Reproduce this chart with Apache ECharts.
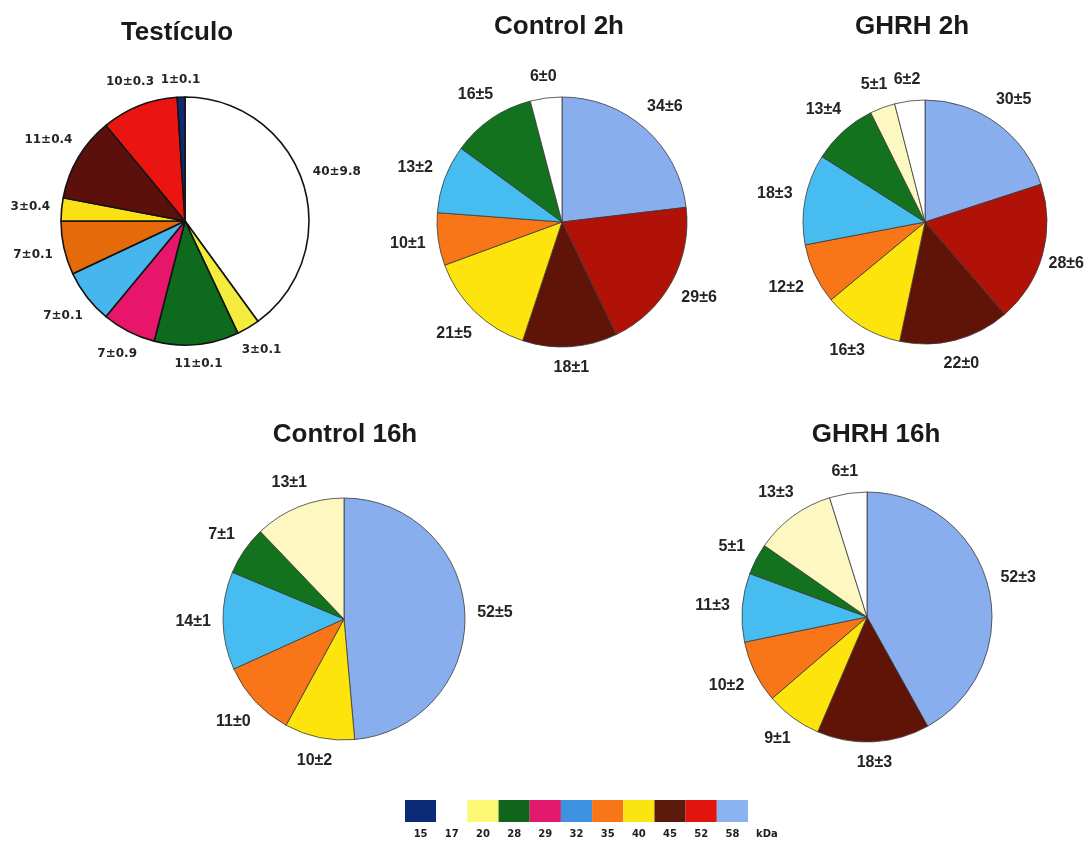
<!DOCTYPE html>
<html>
<head>
<meta charset="utf-8">
<script src="https://cdn.jsdelivr.net/npm/echarts@6/dist/echarts.min.js"></script>
<style>
  html, body { margin: 0; padding: 0; background: #ffffff; }
  #chart { width: 1088px; height: 845px; }
</style>
</head>
<body>
<div id="chart"></div>
<script>
// Protein fractions (kDa) per sample: mean and SD, drawn clockwise from 12 o'clock.
const testisKda  = [17, 20, 28, 29, 32, 35, 40, 45, 52, 15];
const testisMean = [40, 3, 11, 7, 7, 7, 3, 11, 10, 1];
const testisSd   = ['9.8', '0.1', '0.1', '0.9', '0.1', '0.1', '0.4', '0.4', '0.3', '0.1'];

const ctrl2hKda  = [58, 52, 45, 40, 35, 32, 28, 17];
const ctrl2hMean = [34, 29, 18, 21, 10, 13, 16, 6];
const ctrl2hSd   = [6, 6, 1, 5, 1, 2, 5, 0];

const ghrh2hKda  = [58, 52, 45, 40, 35, 32, 28, 20, 17];
const ghrh2hMean = [30, 28, 22, 16, 12, 18, 13, 5, 6];
const ghrh2hSd   = [5, 6, 0, 3, 2, 3, 4, 1, 2];

const ctrl16hKda  = [58, 40, 35, 32, 28, 20];
const ctrl16hMean = [52, 10, 11, 14, 7, 13];
const ctrl16hSd   = [5, 2, 0, 1, 1, 1];

const ghrh16hKda  = [58, 45, 40, 35, 32, 28, 20, 17];
const ghrh16hMean = [52, 18, 9, 10, 11, 5, 13, 6];
const ghrh16hSd   = [3, 3, 1, 2, 3, 1, 3, 1];

// Colour key
const keyKda = ['15', '17', '20', '28', '29', '32', '35', '40', '45', '52', '58'];

const keyColors = {
  15: '#0b2a78', 17: '#ffffff', 20: '#fcf874', 28: '#10641c', 29: '#e2186c',
  32: '#3d91e0', 35: '#f87618', 40: '#fce412', 45: '#5a1a0c', 52: '#e2140e', 58: '#8ab4f0'
};
const testisColors = {
  15: '#0b2a78', 17: '#ffffff', 20: '#f4ec3c', 28: '#0e6a1c', 29: '#e8166a',
  32: '#48b6ee', 35: '#e46a0a', 40: '#fbe014', 45: '#5c100c', 52: '#ea1410'
};
const assayColors = {
  17: '#ffffff', 20: '#fdf7c2', 28: '#12721e', 32: '#46bcf0', 35: '#f87618',
  40: '#fce40c', 45: '#601408', 52: '#b01208', 58: '#88aeee'
};

const WIDTH = 1088, HEIGHT = 845;
// Pie viewport is enlarged so outside labels near the canvas edge are never truncated.
const PAD = 300;

function pieData(kda, mean, sd, colors) {
  return kda.map((k, i) => ({
    name: k + ' kDa',
    value: mean[i],
    label: { formatter: mean[i] + '±' + sd[i] },
    itemStyle: { color: colors[k] }
  }));
}

// Place each label centred on the slice's bisector, just outside the rim,
// and keep it inside the canvas.
function radialLabels(center, radius, values, gap) {
  const total = values.reduce((a, b) => a + b, 0);
  const mids = [];
  let cum = 0;
  values.forEach(v => { mids.push((cum + v / 2) / total * 2 * Math.PI); cum += v; });
  return function (params) {
    const a = mids[params.dataIndex];
    const dx = Math.sin(a), dy = -Math.cos(a);
    const w = params.labelRect.width, h = params.labelRect.height;
    const d = radius + gap + Math.abs(dx) * w / 2 + Math.abs(dy) * h / 2;
    let x = center[0] + dx * d;
    const y = center[1] + dy * d;
    x = Math.min(WIDTH - w / 2 - 4, Math.max(w / 2 + 4, x));
    return { x: x, y: y, align: 'center', verticalAlign: 'middle' };
  };
}

function pieSeries(kda, mean, sd, colors, center, radius, opts) {
  return {
    type: 'pie',
    left: -PAD, top: -PAD, width: WIDTH + 2 * PAD, height: HEIGHT + 2 * PAD,
    center: [center[0] + PAD, center[1] + PAD],
    radius: radius,
    startAngle: 90,
    clockwise: true,
    animation: false,
    silent: true,
    avoidLabelOverlap: false,
    data: pieData(kda, mean, sd, colors),
    itemStyle: { borderColor: opts.border, borderWidth: opts.borderWidth },
    label: {
      show: true,
      position: 'outside',
      fontFamily: opts.font,
      fontWeight: 'bold',
      fontSize: opts.fontSize,
      color: '#242424'
    },
    labelLine: { show: false, length: 10, length2: 2 },
    labelLayout: radialLabels(center, radius, mean, opts.gap)
  };
}

const titleStyle = { fontFamily: 'Liberation Sans', fontWeight: 'bold', fontSize: 26, color: '#1a1a1a' };
function title(text, x, y) {
  return { text: text, left: x, top: y, textAlign: 'center', padding: 0, textStyle: titleStyle };
}

const assayOpts = { border: '#3a3a3a', borderWidth: 0.8, font: 'Liberation Sans', fontSize: 16, gap: 12 };

const chart = echarts.init(document.getElementById('chart'), null, { renderer: 'canvas' });
chart.setOption({
  backgroundColor: '#ffffff',
  animation: false,
  title: [
    title('Testículo', 177, 20),
    title('Control 2h', 559, 14),
    title('GHRH 2h', 912, 14),
    title('Control 16h', 345, 422),
    title('GHRH 16h', 876, 422)
  ],
  grid: { left: 405, top: 800, width: 343, height: 22 },
  xAxis: {
    type: 'category',
    data: keyKda,
    axisLine: { show: false },
    axisTick: { show: false },
    axisLabel: { fontFamily: 'DejaVu Sans', fontWeight: 'bold', fontSize: 10, color: '#1e1e1e', margin: 7 },
    name: 'kDa',
    nameLocation: 'end',
    nameGap: 8,
    nameTextStyle: { fontFamily: 'DejaVu Sans', fontWeight: 'bold', fontSize: 10, color: '#1e1e1e', verticalAlign: 'top', padding: [7, 0, 0, 0] }
  },
  yAxis: { type: 'value', min: 0, max: 1, show: false },
  series: [
    pieSeries(testisKda, testisMean, testisSd, testisColors, [185, 221], 124,
      { border: '#141414', borderWidth: 1.6, font: 'DejaVu Sans', fontSize: 12, gap: 11 }),
    pieSeries(ctrl2hKda, ctrl2hMean, ctrl2hSd, assayColors, [562, 222], 125, assayOpts),
    pieSeries(ghrh2hKda, ghrh2hMean, ghrh2hSd, assayColors, [925, 222], 122, assayOpts),
    pieSeries(ctrl16hKda, ctrl16hMean, ctrl16hSd, assayColors, [344, 619], 121, assayOpts),
    pieSeries(ghrh16hKda, ghrh16hMean, ghrh16hSd, assayColors, [867, 617], 125, assayOpts),
    {
      type: 'bar',
      silent: true,
      animation: false,
      barCategoryGap: 0,
      data: keyKda.map(k => ({ value: 1, itemStyle: { color: keyColors[k] } }))
    }
  ]
});
</script>
</body>
</html>
